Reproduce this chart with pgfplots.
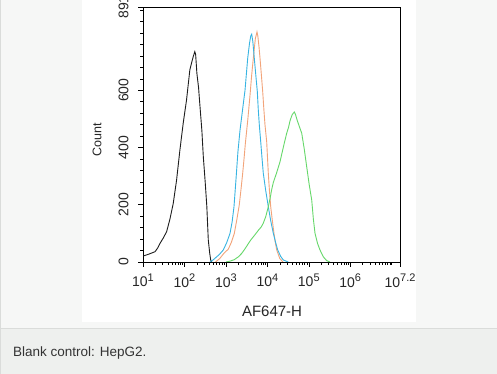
\documentclass[border=0pt]{standalone}
\usepackage{fontspec}
\setmainfont{Liberation Sans}
\usepackage{pgfplots}
\pgfplotsset{compat=1.18}
\definecolor{pagebg}{HTML}{F6F7F6}
\definecolor{capbg}{HTML}{EEF0EE}
\definecolor{borderc}{HTML}{DADCDA}
\definecolor{cblack}{HTML}{1E1E1E}
\definecolor{ccyan}{HTML}{38B4E2}
\definecolor{corange}{HTML}{F2A47A}
\definecolor{cgreen}{HTML}{66D86A}
\newcommand{\tf}{\fontsize{14}{16}\selectfont}
\newcommand{\dec}[1]{{\tf 10\raisebox{0.42em}{\fontsize{11}{12}\selectfont #1}}}
\begin{document}
\begin{tikzpicture}[x=1pt,y=1pt]
\useasboundingbox (0,0) rectangle (497,374);
\clip (0,0) rectangle (497,374);
\fill[pagebg] (0,0) rectangle (497,374);
\draw[borderc, line width=1pt] (0.5,0) -- (0.5,374);
\fill[white] (82,52) rectangle (416,374);
\fill[capbg] (1,0) rectangle (497,45);
\draw[borderc, line width=1pt] (1,45.5) -- (497,45.5);
\node[anchor=west, inner sep=0pt, text=black!80, font=\fontsize{13.5}{16}\selectfont] at (13,21) {Blank control: HepG2.};
\begin{axis}[
  at={(143pt,112pt)}, anchor=south west,
  scale only axis, width=257pt, height=255pt,
  xmin=1, xmax=7.2, ymin=0, ymax=891,
  axis line style={line width=0.8pt, black},
  tick align=outside,
  xtick pos=bottom, ytick pos=left,
  major tick length=5pt, minor tick length=3pt,
  tick style={black, line width=0.6pt},
  xtick={1,2,3,4,5,6,7.2},
  xticklabels={\dec{1},\dec{2},\dec{3},\dec{4},\dec{5},\dec{6},\dec{7.2}},
  minor xtick={1.301,1.477,1.602,1.699,1.778,1.845,1.903,1.954,
    2.301,2.477,2.602,2.699,2.778,2.845,2.903,2.954,
    3.301,3.477,3.602,3.699,3.778,3.845,3.903,3.954,
    4.301,4.477,4.602,4.699,4.778,4.845,4.903,4.954,
    5.301,5.477,5.602,5.699,5.778,5.845,5.903,5.954,
    6.301,6.477,6.602,6.699,6.778,6.845,6.903,6.954,7},
  ytick={0,200,400,600,891},
  yticklabels={{\tf 0},{\tf 200},{\tf 400},{\tf 600},{\tf 891}},
  minor ytick={40,80,...,880},
  /pgf/number format/assume math mode=true,
  tick label style={text=black!85},
  xticklabel style={yshift=-3pt},
  yticklabel style={xshift=-6pt, rotate=90, anchor=south},
  xlabel={AF647-H},
  xlabel style={at={(axis description cs:0.502,-0.192)}, anchor=center, font=\fontsize{15}{17}\selectfont, text=black!85},
  ylabel={Count},
  ylabel style={at={(axis description cs:-0.179,0.478)}, anchor=center, rotate=0, font=\fontsize{12.5}{15}\selectfont, text=black!85},
  clip=true,
]
\addplot[cblack, line width=0.9pt] coordinates {
(1.007,21) (1.15,28) (1.29,36) (1.35,48) (1.41,65) (1.49,84) (1.57,106) (1.65,150) (1.73,205) (1.81,286) (1.89,391) (1.97,485) (2.05,566) (2.13,671) (2.18,700) (2.21,717) (2.25,735) (2.27,725) (2.30,659) (2.34,610) (2.375,543) (2.42,460) (2.455,368) (2.50,280) (2.54,193) (2.575,77) (2.61,30) (2.633,7) (2.66,0)
};
\addplot[corange, line width=0.9pt] coordinates {
(2.75,0) (2.85,12) (2.95,30) (3.058,45) (3.13,68) (3.203,100) (3.26,145) (3.323,200) (3.365,255) (3.405,310) (3.44,365) (3.47,415) (3.53,500) (3.58,580) (3.62,650) (3.661,712) (3.71,780) (3.750,804) (3.77,790) (3.80,750) (3.823,712) (3.855,655) (3.888,595) (3.915,535) (3.943,479) (3.984,420) (4.023,310) (4.05,250) (4.081,193) (4.12,145) (4.160,100) (4.19,70) (4.226,42) (4.30,12) (4.378,0)
};
\addplot[ccyan, line width=0.9pt] coordinates {
(2.616,0) (2.68,6) (2.737,13) (2.84,26) (2.937,42) (3.02,68) (3.099,100) (3.15,140) (3.195,193) (3.244,290) (3.29,385) (3.34,460) (3.40,530) (3.461,600) (3.526,712) (3.57,765) (3.60,790) (3.622,796) (3.65,770) (3.685,712) (3.72,655) (3.758,595) (3.78,535) (3.806,479) (3.84,420) (3.87,365) (3.902,310) (3.96,250) (4.023,193) (4.08,145) (4.144,100) (4.20,68) (4.250,42) (4.32,20) (4.385,7) (4.505,0)
};
\addplot[cgreen, line width=0.9pt] coordinates {
(3.00,0) (3.10,3) (3.20,8) (3.30,18) (3.381,30) (3.44,42) (3.50,55) (3.60,77) (3.70,95) (3.79,112) (3.85,122) (3.90,135) (3.96,158) (4.023,193) (4.07,225) (4.10,250) (4.144,278) (4.22,310) (4.305,350) (4.36,385) (4.40,410) (4.467,450) (4.51,470) (4.55,495) (4.60,515) (4.65,524) (4.68,515) (4.72,495) (4.78,470) (4.829,450) (4.89,395) (4.949,333) (5.01,270) (5.07,217) (5.11,150) (5.15,100) (5.21,65) (5.27,42) (5.35,18) (5.43,5) (5.51,0)
};
\end{axis}
\end{tikzpicture}
\end{document}
